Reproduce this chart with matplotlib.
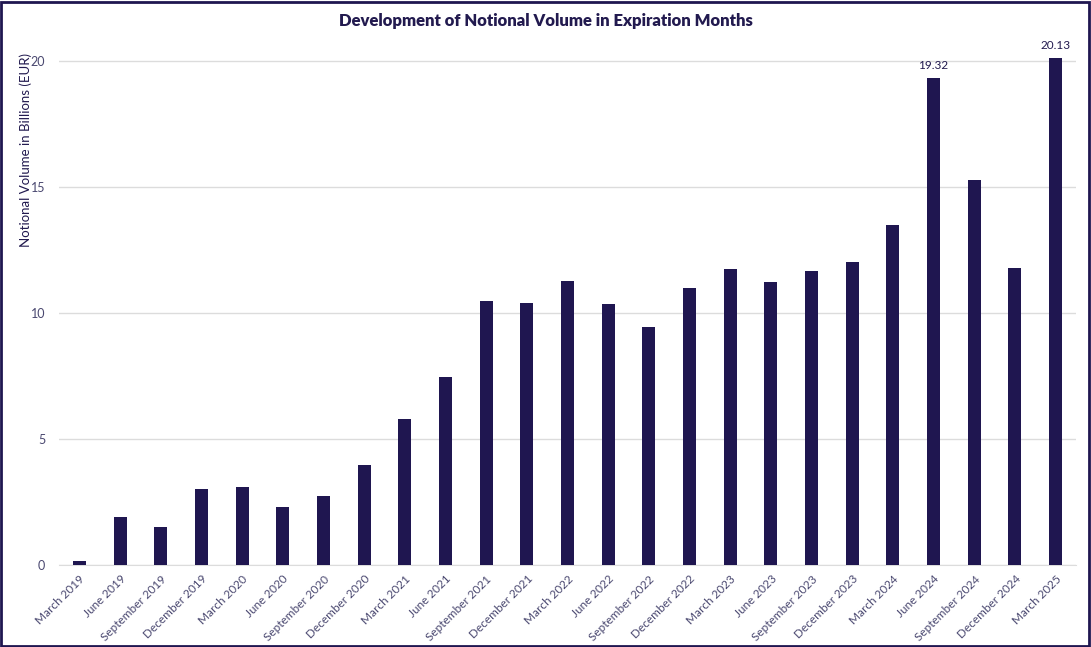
import matplotlib.pyplot as plt
from matplotlib.patches import Rectangle

plt.rcParams['font.family'] = ['Lato', 'DejaVu Sans']

months = ["March 2019", "June 2019", "September 2019", "December 2019",
          "March 2020", "June 2020", "September 2020", "December 2020",
          "March 2021", "June 2021", "September 2021", "December 2021",
          "March 2022", "June 2022", "September 2022", "December 2022",
          "March 2023", "June 2023", "September 2023", "December 2023",
          "March 2024", "June 2024", "September 2024", "December 2024",
          "March 2025"]
volume = [0.16, 1.9, 1.51, 3.02, 3.1, 2.3, 2.74, 3.97, 5.79, 7.46,
          10.48, 10.4, 11.27, 10.36, 9.44, 10.99, 11.75, 11.23, 11.67, 12.02,
          13.49, 19.32, 15.28, 11.79, 20.13]
labelled = ["June 2024", "March 2025"]

navy = '#1f1650'
txt = '#221a4f'
tick_col = '#4a4870'

fig = plt.figure(figsize=(10.91, 6.47), dpi=100)
ax = fig.add_axes([59/1091, 1 - 565/647, (1076-59)/1091, (565-53.4)/647])

x = range(len(months))
bars = ax.bar(x, volume, width=0.32, color=navy, zorder=3)
for b, m, v in zip(bars, months, volume):
    if m in labelled:
        ax.annotate(f"{v:.2f}", (b.get_x() + b.get_width()/2, v), xytext=(0, 5),
                    textcoords='offset points', ha='center', va='bottom',
                    fontsize=8.5, color=txt)

ax.set_xlim(-0.5, len(months) - 0.5)
ax.set_ylim(0, 20.3)
ax.set_yticks([0, 5, 10, 15, 20])
ax.yaxis.grid(True, color='#dcdcdc', lw=1, zorder=0)
ax.set_xticks(list(x))
ax.set_xticklabels(months, rotation=45, ha='right', rotation_mode='anchor',
                   fontsize=8.5, color=tick_col)
ax.tick_params(axis='y', length=0, labelsize=9, labelcolor=tick_col, pad=10)
ax.tick_params(axis='x', length=0, pad=6)
for s in ('top', 'right', 'left'):
    ax.spines[s].set_visible(False)
ax.spines['bottom'].set_color('#dcdcdc')

ax.set_ylabel("Notional Volume in Billions (EUR)", fontsize=9.5, color=txt, loc='top')
ax.yaxis.set_label_coords(-27/1017, 1.0)
fig.text(0.5, 1 - 21/647, "Development of Notional Volume in Expiration Months",
         ha='center', va='center', fontsize=12, fontweight='heavy', color=txt)

fig.patches.append(Rectangle((0.001, 0.002), 0.997, 0.995, transform=fig.transFigure,
                             fill=False, ec=navy, lw=2))

fig.savefig("out.png", dpi=100)
